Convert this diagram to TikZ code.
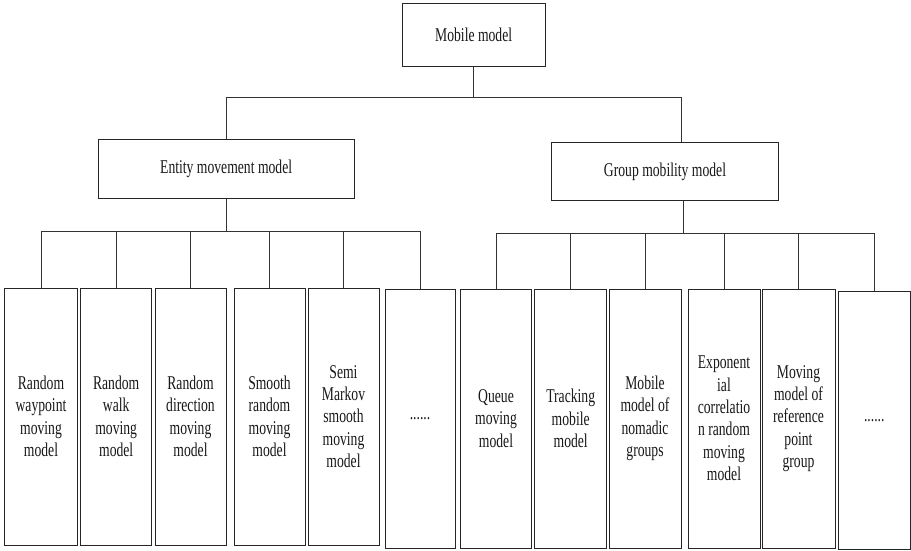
\documentclass[tikz,border=0pt]{standalone}
\usepackage{fontspec}
\setmainfont{Liberation Serif}[FakeStretch=0.7]
\usetikzlibrary{calc}
\begin{document}
\begin{tikzpicture}[x=1pt,y=-1pt,
  box/.style={draw=black!85, line width=0.9pt, inner sep=0pt, align=center,
    font=\fontsize{19.5}{22.4}\selectfont, text=black!90},
  conn/.style={draw=black!80, line width=0.9pt}]
\useasboundingbox[fill=white] (0,0) rectangle (911,550);
% top levels
\node[box, minimum width=142.7pt, minimum height=63.4pt] (top) at (473.65,35) {Mobile model};
\node[box, minimum width=255.7pt, minimum height=59pt] (ent) at (226.15,168.8) {Entity movement model};
\node[box, minimum width=226.6pt, minimum height=58.7pt] (grp) at (665,171.35) {Group mobility model};
% left children
\node[box, minimum width=72.6pt, minimum height=257pt] (c1) at (41,416.5) {Random\\waypoint\\moving\\model};
\node[box, minimum width=71pt, minimum height=257pt] (c2) at (116.2,416.5) {Random\\walk\\moving\\model};
\node[box, minimum width=71pt, minimum height=257pt] (c3) at (190.5,416.5) {Random\\direction\\moving\\model};
\node[box, minimum width=71pt, minimum height=257pt] (c4) at (269.5,416.5) {Smooth\\random\\moving\\model};
\node[box, minimum width=71pt, minimum height=257pt] (c5) at (343.5,416.5) {Semi\\Markov\\smooth\\moving\\model};
\node[box, minimum width=70pt, minimum height=259pt] (c6) at (420,418.5) {......};
% right children
\node[box, minimum width=70.6pt, minimum height=259pt] (c7) at (496,418.5) {Queue\\moving\\model};
\node[box, minimum width=72pt, minimum height=259pt] (c8) at (570.7,418.5) {Tracking\\mobile\\model};
\node[box, minimum width=72pt, minimum height=259pt] (c9) at (645,418.5) {Mobile\\model of\\nomadic\\groups};
\node[box, minimum width=72pt, minimum height=259pt] (c10) at (724,418.5) {Exponent\\ial\\correlatio\\n random\\moving\\model};
\node[box, minimum width=73pt, minimum height=259pt] (c11) at (798.5,418.5) {Moving\\model of\\reference\\point\\group};
\node[box, minimum width=72.5pt, minimum height=257.3pt] (c12) at (874.25,420.35) {......};
% connectors
\coordinate (tb) at (0,97.3);
\coordinate (lb) at (0,231);
\coordinate (rb) at (0,233);
\coordinate (gN) at ($(grp.north)+(16.7,0)$);
\coordinate (gS) at ($(grp.south)+(18,0)$);
\draw[conn] (top.south) -- (top.south |- tb);
\draw[conn] (ent.north) |- (gN |- tb) -- (gN);
\draw[conn] (ent.south) -- (ent.south |- lb);
\draw[conn] (c1.north |- lb) -- (c6.north |- lb);
\foreach \c in {c1,c2,c3,c4,c5,c6} {\draw[conn] (\c.north |- lb) -- (\c.north);}
\draw[conn] (gS) -- (gS |- rb);
\draw[conn] (c7.north |- rb) -- (c12.north |- rb);
\foreach \c in {c7,c8,c9,c10,c11,c12} {\draw[conn] (\c.north |- rb) -- (\c.north);}
\end{tikzpicture}
\end{document}
